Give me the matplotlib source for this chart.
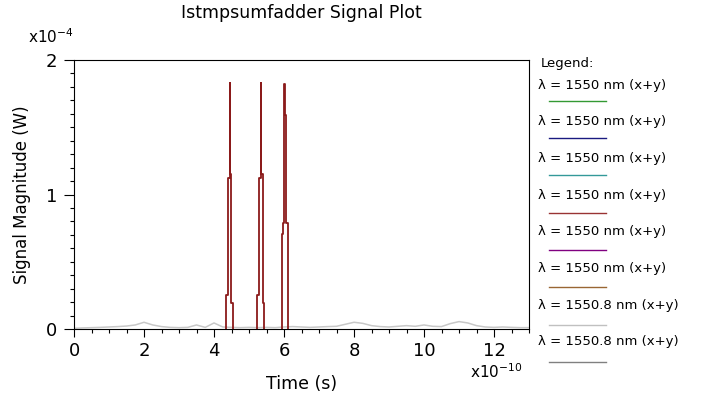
import numpy as np
import matplotlib.pyplot as plt
from matplotlib.ticker import MultipleLocator
from matplotlib.lines import Line2D

# signal data (time in 1e-10 s, power in 1e-4 W), one list pair per pulse
pulse1_t = [4.33, 4.33, 4.39, 4.445, 4.46, 4.49, 4.53]
pulse1_p = [0.00, 0.25, 1.12, 1.83, 1.15, 0.19, 0.00]
pulse2_t = [5.24, 5.24, 5.295, 5.34, 5.355, 5.39, 5.44]
pulse2_p = [0.00, 0.25, 1.12, 1.83, 1.15, 0.19, 0.00]
pulse3_t = [5.94, 5.94, 5.97, 6.00, 6.015, 6.07, 6.12]
pulse3_p = [0.00, 0.71, 0.79, 1.82, 1.59, 0.79, 0.00]

noise_t = [0.00, 0.25, 0.50, 0.75, 1.00, 1.25, 1.50, 1.75, 2.00, 2.25,
           2.50, 2.75, 3.00, 3.25, 3.50, 3.75, 4.00, 4.25, 4.50, 4.75,
           5.00, 5.25, 5.50, 5.75, 6.00, 6.25, 6.50, 6.75, 7.00, 7.25,
           7.50, 7.75, 8.00, 8.25, 8.50, 8.75, 9.00, 9.25, 9.50, 9.75,
           10.00, 10.25, 10.50, 10.75, 11.00, 11.25, 11.50, 11.75, 12.00, 12.25,
           12.50, 12.75, 13.00]
noise_p = [0.005, 0.008, 0.010, 0.012, 0.015, 0.018, 0.022, 0.030, 0.050, 0.030,
           0.018, 0.012, 0.010, 0.012, 0.030, 0.012, 0.045, 0.015, 0.012, 0.010,
           0.012, 0.010, 0.012, 0.010, 0.015, 0.018, 0.015, 0.012, 0.015, 0.018,
           0.020, 0.035, 0.050, 0.042, 0.025, 0.018, 0.015, 0.020, 0.025, 0.020,
           0.030, 0.020, 0.018, 0.040, 0.055, 0.045, 0.025, 0.015, 0.012, 0.015,
           0.012, 0.010, 0.010]

legend_labels = ['λ = 1550 nm (x+y)'] * 6 + ['λ = 1550.8 nm (x+y)'] * 2
legend_colors = ['#339933', '#1a1a80', '#339999', '#993333',
                 '#800080', '#996633', '#c0c0c0', '#808080']

fig = plt.figure(figsize=(7.02, 4.12), dpi=100)
W, H = 702, 412
ax = fig.add_axes([74/W, 1-329/H, 455/W, 269/H])

ax.plot(noise_t, noise_p, color='#c8c8c8', lw=1.1)
for pt, pp in [(pulse1_t, pulse1_p), (pulse2_t, pulse2_p), (pulse3_t, pulse3_p)]:
    ax.plot(pt, pp, color='#8b1a1a', lw=1.3, drawstyle='steps-post')

ax.set_xlim(0, 13)
ax.set_ylim(0, 2)
ax.set_xticks(range(0, 13, 2))
ax.set_yticks([0, 1, 2])
ax.xaxis.set_minor_locator(MultipleLocator(0.5))
ax.yaxis.set_minor_locator(MultipleLocator(0.1))
ax.tick_params(axis='x', which='major', length=6, width=0.8, labelsize=13, pad=3)
ax.tick_params(axis='y', which='major', length=7, width=0.8, labelsize=13, pad=5)
ax.tick_params(which='minor', length=3, width=0.8)
for s in ax.spines.values():
    s.set_linewidth(0.8)
    s.set_zorder(3)

ax.set_xlabel('Time (s)', fontsize=12.5, va='top')
ax.set_ylabel('Signal Magnitude (W)', fontsize=12)
ax.xaxis.set_label_coords(0.5, (329-375)/269)
ax.yaxis.set_label_coords((31-74)/455, 0.5)

fig.text(301/W, 1-13/H, 'Istmpsumfadder Signal Plot', ha='center', va='center', fontsize=12.5)
fig.text(28/W, 1-37/H, r'x10$^{-4}$', ha='left', va='center', fontsize=11)
fig.text(470/W, 1-372/H, r'x10$^{-10}$', ha='left', va='center', fontsize=11)

# legend at the right
fig.text(541/W, 1-63/H, 'Legend:', ha='left', va='center', fontsize=9.5)
for i, (lab, col) in enumerate(zip(legend_labels, legend_colors)):
    ty = 85 + 36.7*i
    ly = 100.7 + 37.3*i
    fig.text(538/W, 1-ty/H, lab, ha='left', va='center', fontsize=9.5)
    fig.add_artist(Line2D([549/W, 606/W], [1-ly/H, 1-ly/H], color=col, lw=1.0,
                          transform=fig.transFigure))

fig.savefig('out.png', dpi=100)
